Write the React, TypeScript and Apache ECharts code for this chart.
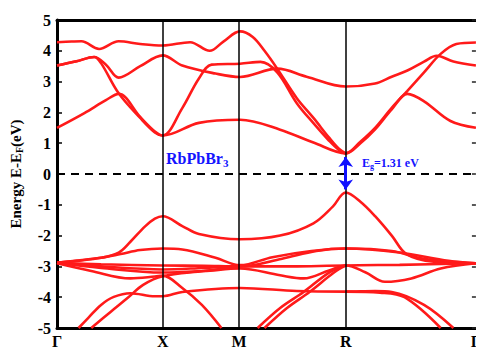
import React, { useEffect, useRef } from "react";
import * as echarts from "echarts";

const kPoints = [0, 1.08, 1.86, 2.95, 4.28];
const kLabels = ["Γ", "X", "M", "R", "Γ"];
const yTicks = [-5, -4, -3, -2, -1, 0, 1, 2, 3, 4, 5];

// conduction bands [k, E]
const c1 = [[0,4.28],[0.15,4.3],[0.25,4.31],[0.43,4.06],[0.63,4.31],[0.85,4.22],[1.08,4.17],[1.36,4.28],[1.56,4.0],[1.7,4.3],[1.87,4.63],[2.0,4.45],[2.12,4.0],[2.25,3.42],[2.45,2.46],[2.62,1.82],[2.78,1.18],[2.88,0.82],[2.95,0.67]];
const c2 = [[0,3.52],[0.2,3.66],[0.38,3.8],[0.5,3.55],[0.63,3.13],[0.85,3.5],[1.08,3.85],[1.28,3.52],[1.62,3.26],[1.87,3.15],[2.25,3.42],[2.55,3.16],[2.95,2.84],[3.25,2.94],[3.42,3.16],[3.58,3.36],[3.75,3.65],[3.88,3.84],[4.05,3.65],[4.28,3.52]];
const c3 = [[0,3.52],[0.2,3.66],[0.38,3.8],[0.45,3.6],[0.63,2.62],[0.85,1.82],[1.0,1.35],[1.08,1.25],[1.28,2.14],[1.45,3.1],[1.58,3.55],[1.87,3.58],[2.08,3.64],[2.25,3.3],[2.45,2.3],[2.62,1.65],[2.78,1.08],[2.88,0.78],[2.95,0.67],[3.1,1.05],[3.25,1.5],[3.42,2.15],[3.58,2.7],[3.75,3.3],[3.92,3.9],[4.08,4.22],[4.28,4.27]];
const c4 = [[0,1.5],[0.28,1.98],[0.5,2.4],[0.63,2.6],[0.85,1.85],[1.0,1.38],[1.08,1.25],[1.45,1.66],[1.87,1.76],[2.28,1.44],[2.62,1.02],[2.95,0.67],[3.1,1.0],[3.25,1.45],[3.42,2.1],[3.58,2.6],[3.75,2.36],[4.02,1.72],[4.28,1.5]];

// valence bands [k, E]
const v1 = [[0,-2.88],[0.2,-2.82],[0.45,-2.72],[0.63,-2.55],[0.75,-2.2],[0.9,-1.7],[1.0,-1.45],[1.08,-1.37],[1.28,-1.69],[1.45,-1.95],[1.87,-2.12],[2.28,-2.0],[2.62,-1.6],[2.82,-1.05],[2.95,-0.6],[3.1,-0.9],[3.25,-1.37],[3.42,-2.0],[3.57,-2.6],[3.85,-2.85],[4.28,-2.9]];
const v2 = [[0,-2.88],[0.45,-2.72],[0.65,-2.6],[0.85,-2.47],[1.08,-2.42],[1.28,-2.45],[1.62,-2.72],[1.87,-2.96],[2.2,-2.7],[2.6,-2.5],[2.95,-2.42],[3.42,-2.5],[3.75,-2.75],[4.28,-2.9]];
const v3 = [[0,-2.88],[0.45,-2.93],[1.08,-2.97],[1.5,-2.98],[1.87,-3.0],[2.3,-2.75],[2.65,-2.5],[2.95,-2.42],[3.5,-2.55],[4.0,-2.82],[4.28,-2.9]];
const v4 = [[0,-2.88],[0.45,-3.0],[1.08,-3.1],[1.5,-3.05],[1.87,-3.0],[2.4,-3.0],[2.95,-2.97],[3.15,-3.19],[3.35,-3.5],[3.62,-3.39],[3.92,-3.07],[4.28,-2.9]];
const v5 = [[0,-2.88],[0.45,-3.05],[1.08,-3.2],[1.5,-3.15],[1.87,-3.07],[2.28,-3.29],[2.52,-3.39],[2.78,-3.13],[2.95,-2.97],[3.5,-2.95],[4.28,-2.9]];
const v6 = [[0,-2.9],[0.35,-3.15],[0.75,-3.39],[1.0,-3.33],[1.08,-3.3],[1.28,-3.7],[1.48,-4.25],[1.68,-5]];
const v7 = [[0.35,-5],[0.55,-4.47],[0.72,-4.03],[0.88,-3.6],[1.08,-3.32],[1.5,-3.15],[1.87,-3.0]];
const v8 = [[0.22,-5],[0.32,-4.67],[0.45,-4.25],[0.58,-3.99],[0.75,-3.87],[1.0,-3.97],[1.08,-3.97],[1.28,-3.83],[1.87,-3.7],[2.45,-3.8],[2.95,-3.82],[3.25,-3.8],[3.42,-3.83],[3.75,-4.25],[4.05,-5]];
const v9 = [[2.95,-3.82],[3.3,-3.85],[3.55,-4.0],[3.92,-5]];
const v10 = [[2.05,-5],[2.28,-4.35],[2.52,-3.83],[2.78,-3.2],[2.95,-2.97]];
const v11 = [[2.12,-5],[2.35,-4.35],[2.58,-3.83],[2.83,-3.2],[2.95,-2.97]];

const bands = [c1, c2, c3, c4, v1, v2, v3, v4, v5, v6, v7, v8, v9, v10, v11];

const gapTop = 0.55;
const gapBottom = -0.5;

const serif = "'Liberation Serif', 'Times New Roman', serif";

export default function App() {
  const ref = useRef<HTMLDivElement>(null);
  useEffect(() => {
    if (!ref.current) return;
    const chart = echarts.init(ref.current, null, { renderer: "svg" });
    const bandSeries = bands.map((b) => ({
      type: "line",
      data: b,
      smooth: 0.35,
      showSymbol: false,
      symbol: "none",
      lineStyle: { color: "#ff1a1a", width: 2.6 },
      z: 3,
      silent: true,
    }));
    chart.setOption({
      animation: false,
      grid: { left: 55, right: 1, top: 20, bottom: 16 },
      xAxis: [
        {
          type: "value",
          min: 0,
          max: kPoints[kPoints.length - 1],
          axisLine: { onZero: false, lineStyle: { color: "#000", width: 3 } },
          axisTick: { show: false },
          splitLine: { show: false },
          axisLabel: {
            customValues: kPoints,
            formatter: (v: number) => {
              const i = kPoints.findIndex((p) => Math.abs(p - v) < 1e-6);
              return i >= 0 ? kLabels[i] : "";
            },
            color: "#000",
            fontFamily: serif,
            fontWeight: "bold",
            fontSize: 16,
            margin: 5,
          },
        },
        {
          type: "value",
          position: "top",
          min: 0,
          max: kPoints[kPoints.length - 1],
          axisLine: { onZero: false, lineStyle: { color: "#000", width: 3 } },
          axisTick: { show: false },
          axisLabel: { show: false },
          splitLine: { show: false },
        },
      ],
      yAxis: [
        {
          type: "value",
          min: -5,
          max: 5,
          interval: 1,
          axisLine: { onZero: false, lineStyle: { color: "#000", width: 3 } },
          axisTick: { inside: true, length: 5, lineStyle: { color: "#000", width: 1.5 } },
          splitLine: { show: false },
          axisLabel: {
            color: "#000",
            fontFamily: serif,
            fontWeight: "bold",
            fontSize: 16,
            margin: 6,
            formatter: (v: number) => (yTicks.includes(v) ? String(v) : ""),
          },
          name: "Energy E-E{sub|F}(eV)",
          nameLocation: "middle",
          nameGap: 33,
          nameTextStyle: {
            color: "#000",
            fontFamily: serif,
            fontWeight: "bold",
            fontSize: 15,
            rich: {
              sub: { fontFamily: serif, fontWeight: "bold", fontSize: 10, verticalAlign: "bottom", padding: [7, 0, 0, 0] },
            },
          },
        },
        {
          type: "value",
          position: "right",
          min: -5,
          max: 5,
          interval: 1,
          axisLine: { onZero: false, lineStyle: { color: "#aaa", width: 1 } },
          axisTick: { inside: true, length: 4, lineStyle: { color: "#222", width: 1.5 } },
          axisLabel: { show: false },
          splitLine: { show: false },
        },
      ],
      series: [
        {
          type: "line",
          data: [],
          silent: true,
          markLine: {
            silent: true,
            symbol: "none",
            label: { show: false },
            lineStyle: { color: "#000", width: 1.5, type: "solid" },
            data: kPoints.slice(1, -1).map((k) => ({ xAxis: k })),
          },
          z: 1,
        },
        {
          type: "line",
          data: [],
          silent: true,
          markLine: {
            silent: true,
            symbol: "none",
            label: { show: false },
            lineStyle: { color: "#000", width: 2, type: [8, 6] },
            data: [{ yAxis: 0 }],
          },
          z: 1,
        },
        ...bandSeries,
        {
          type: "line",
          data: [],
          silent: true,
          markLine: {
            silent: true,
            symbol: ["arrow", "arrow"],
            symbolSize: [11, 10],
            label: { show: false },
            lineStyle: { color: "#1010ff", width: 3, type: "solid" },
            data: [[{ coord: [kPoints[3], gapTop] }, { coord: [kPoints[3], gapBottom] }]],
          },
          z: 5,
        },
      ],
      graphic: [
        {
          type: "text",
          left: 166,
          top: 150,
          style: {
            text: "RbPbBr{s|3}",
            fill: "#1414ff",
            font: `bold 16px ${serif}`,
            rich: {
              s: { fill: "#1414ff", fontFamily: serif, fontWeight: "bold", fontSize: 11, padding: [10, 0, 0, 0] },
            },
          },
          z: 10,
        },
        {
          type: "text",
          left: 362,
          top: 157,
          style: {
            text: "E{s|g}=1.31 eV",
            fill: "#1414ff",
            font: `bold 12px ${serif}`,
            rich: {
              s: { fill: "#1414ff", fontFamily: serif, fontWeight: "bold", fontSize: 8, padding: [7, 0, 0, 0] },
            },
          },
          z: 10,
        },
      ],
    });
    return () => chart.dispose();
  }, []);
  return <div ref={ref} style={{ width: 484, height: 349, marginLeft: -8, marginTop: -8 }} />;
}
